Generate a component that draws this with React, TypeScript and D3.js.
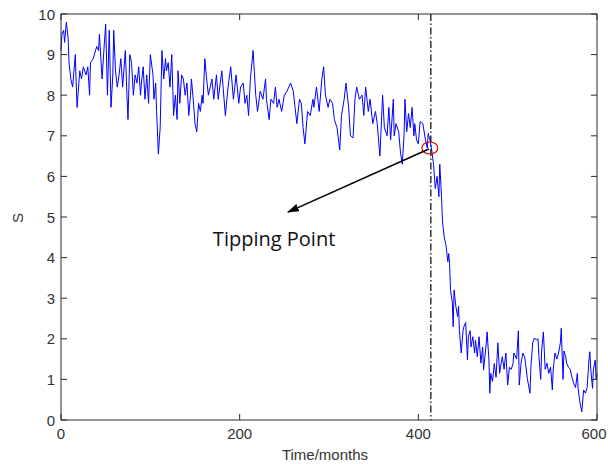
import React from 'react';
import * as d3 from 'd3';

const months = [0,1,3,4,6,8,9,11,13,16,17,18,21,23,25,28,30,32,33,36,40,42,43,46,48,50,52,54,56,58,59,61,63,65,67,69,72,74,75,77,79,81,83,85,87,89,90,92,94,96,98,100,103,104,106,107,109,111,113,115,117,118,120,122,124,126,128,130,131,133,135,137,139,141,143,145,146,148,150,152,154,156,158,159,161,163,165,169,171,174,176,180,184,187,190,193,196,199,201,204,206,208,210,212,215,218,220,223,226,229,230,233,235,238,240,242,244,247,250,253,257,260,262,264,267,269,271,273,276,279,282,283,286,289,292,294,296,299,301,304,306,309,312,314,317,319,322,324,327,329,331,334,337,339,341,344,346,349,352,354,357,360,362,365,367,369,372,373,375,378,380,382,384,385,387,389,391,393,395,396,398,400,402,405,408,410,411,413,415,417,419,421,423,424,426,427,429,431,432,433,434,435,436,438,439,440,442,444,445,446,448,450,451,453,455,456,458,459,461,463,464,466,468,470,472,473,476,477,479,480,481,483,485,487,489,491,492,494,496,498,500,502,504,506,507,510,512,513,515,517,519,520,522,525,526,528,530,532,534,535,537,538,540,542,544,546,548,550,551,553,555,557,559,560,562,563,565,566,568,570,572,574,576,578,579,581,583,585,587,589,591,592,593,595,596,598,599,600];

const sValues = [9.1,9.5,9.6,9.3,9.8,9.4,8.8,8.4,8.2,9.0,8.3,7.7,8.6,8.4,8.7,8.5,8.7,8.0,8.8,8.9,9.2,9.1,9.5,8.4,9.1,9.75,8.0,9.6,7.7,8.5,9.6,8.6,8.2,8.5,8.9,8.2,9.1,7.9,7.4,9.0,8.8,8.0,8.5,8.3,8.7,8.0,8.3,8.7,7.9,8.5,7.8,9.0,8.5,7.9,8.3,7.6,6.55,7.2,9.1,8.4,8.9,8.6,8.8,8.2,9.0,7.5,8.0,7.4,8.6,7.8,8.5,8.4,8.0,8.3,7.5,8.0,8.4,7.9,7.3,7.1,7.8,7.6,8.0,7.8,8.9,8.4,8.0,8.4,7.9,8.5,7.9,8.6,7.5,8.2,8.7,7.9,8.5,7.8,8.2,8.3,7.8,8.0,7.5,8.4,9.1,8.0,7.6,8.1,7.9,8.4,7.9,7.4,7.9,7.8,8.2,7.7,7.9,7.6,8.0,8.1,8.3,8.1,7.7,7.3,7.9,7.8,7.2,6.8,7.6,7.5,7.9,7.7,8.2,7.6,8.4,8.7,8.0,7.7,7.9,7.8,7.4,7.2,6.65,7.5,7.9,8.3,7.7,7.0,6.95,7.9,8.2,7.9,8.0,7.5,8.2,7.6,7.9,7.3,7.6,7.3,6.5,8.0,7.2,7.0,7.7,6.9,7.9,7.0,7.3,7.1,6.6,6.3,7.0,7.9,7.1,7.55,7.2,7.7,7.0,7.3,6.9,6.8,7.35,7.3,6.9,6.7,7.06,6.9,6.65,6.3,5.7,6.0,5.5,6.3,5.5,4.9,4.5,4.3,4.1,3.9,4.1,3.85,3.2,2.9,2.3,3.2,2.8,2.55,2.8,2.2,1.65,2.2,2.3,2.4,1.48,2.05,2.2,1.8,2.05,1.65,1.97,1.56,2.05,1.4,1.8,1.23,1.88,2.17,1.48,0.66,1.15,0.95,1.39,1.05,1.9,1.15,1.3,1.56,1.25,1.65,0.86,1.3,1.25,1.39,1.65,1.5,2.2,0.86,1.4,1.65,1.55,1.4,1.02,0.66,1.3,1.9,2.02,1.97,2.0,1.56,1.0,1.7,2.17,1.25,1.4,1.15,1.3,0.74,1.25,1.65,1.5,1.65,1.9,2.26,1.0,1.7,1.56,1.4,1.3,1.25,1.05,0.9,0.8,1.15,0.74,0.42,0.2,0.74,0.66,0.8,1.48,1.68,1.25,0.78,1.25,1.48,1.0,1.15];

const xTicks = [0, 200, 400, 600];
const yTicks = [0, 1, 2, 3, 4, 5, 6, 7, 8, 9, 10];
const tipping = { month: 414, value: 6.7 };
const arrowEnd = { month: 254, value: 5.12 };
const labelPos = { month: 170, value: 4.28 };
const annotationText = 'Tipping Point';
const xLabel = 'Time/months';
const yLabel = 'S';

export default function App() {
  const W = 608, H = 464;
  const left = 61, right = 597, top = 14, bottom = 420;
  const x = d3.scaleLinear().domain([0, 600]).range([left, right]);
  const y = d3.scaleLinear().domain([0, 10]).range([bottom, top]);
  const line = d3.line<number>().x((_, i) => x(months[i])).y((d) => y(d));
  const axisColor = '#2a2a2a';
  const tickLen = 6;
  const font = '"Liberation Sans", Arial, sans-serif';
  const tx = x(tipping.month), ty = y(tipping.value);
  return (
    <svg width={W} height={H} style={{ position: 'absolute', left: 0, top: 0, background: '#fff' }}>
      <defs>
        <marker id="ah" viewBox="0 0 12 8" refX="11" refY="4" markerWidth="12" markerHeight="8" markerUnits="userSpaceOnUse" orient="auto">
          <path d="M0,0 L12,4 L0,8 Z" fill="#000" />
        </marker>
      </defs>
      <rect x={0} y={0} width={W} height={H} fill="#fff" />
      <path d={line(sValues) || ''} fill="none" stroke="#0000ff" strokeWidth={1} strokeLinejoin="round" />
      <line x1={tx} x2={tx} y1={top} y2={bottom} stroke="#000" strokeWidth={1.2} strokeDasharray="7 2.5 1.5 2.5" />
      <ellipse cx={tx - 1} cy={ty} rx={8} ry={6} fill="none" stroke="#e00000" strokeWidth={1.2} />
      <line x1={tx - 2} y1={ty + 1} x2={x(arrowEnd.month)} y2={y(arrowEnd.value)} stroke="#000" strokeWidth={1.6} markerEnd="url(#ah)" />
      <text x={x(labelPos.month)} y={y(labelPos.value)} fontFamily='"Open Sans", sans-serif' fontSize={20} fill="#111">{annotationText}</text>
      <rect x={left} y={top} width={right - left} height={bottom - top} fill="none" stroke={axisColor} strokeWidth={1} />
      {yTicks.map((t) => (
        <g key={'y' + t}>
          <line x1={left} x2={left + tickLen} y1={y(t)} y2={y(t)} stroke={axisColor} />
          <line x1={right - tickLen} x2={right} y1={y(t)} y2={y(t)} stroke={axisColor} />
          <text x={left - 6} y={y(t) + 5.5} textAnchor="end" fontFamily={font} fontSize={15} fill="#333">{t}</text>
        </g>
      ))}
      {xTicks.map((t) => (
        <g key={'x' + t}>
          <line x1={x(t)} x2={x(t)} y1={bottom} y2={bottom - tickLen} stroke={axisColor} />
          <line x1={x(t)} x2={x(t)} y1={top} y2={top + tickLen} stroke={axisColor} />
          <text x={Math.min(x(t), W - 14)} y={439} textAnchor="middle" fontFamily={font} fontSize={15} fill="#333">{t}</text>
        </g>
      ))}
      <text x={(left + right) / 2 - 4} y={460} textAnchor="middle" fontFamily={font} fontSize={15} fill="#333">{xLabel}</text>
      <text transform="translate(23,218) rotate(-90)" textAnchor="middle" fontFamily={font} fontSize={15} fill="#333">{yLabel}</text>
    </svg>
  );
}
